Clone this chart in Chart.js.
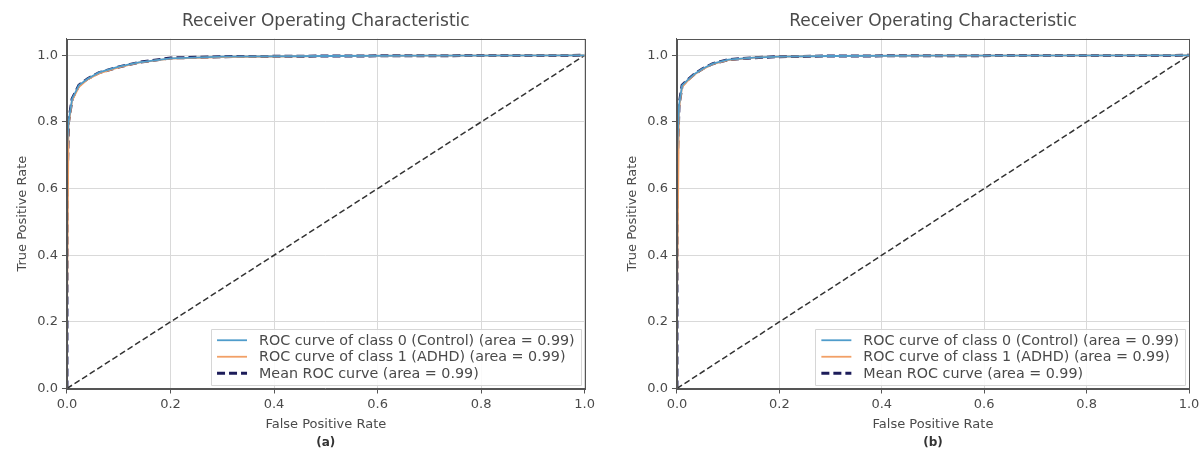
<!DOCTYPE html>
<html>
<head>
<meta charset="utf-8">
<script src="https://cdn.jsdelivr.net/npm/chart.js@4.4.1/dist/chart.umd.min.js"></script>
<style>
  html, body { margin: 0; padding: 0; background: #fff; }
  body { width: 1200px; height: 455px; position: relative; overflow: hidden; }
  .panel { position: absolute; top: 0; height: 455px; }
  #panelA { left: 0; width: 600px; }
  #panelB { left: 610px; width: 600px; }
</style>
</head>
<body>
<div class="panel" id="panelA"><canvas id="rocA"></canvas></div>
<div class="panel" id="panelB"><canvas id="rocB"></canvas></div>
<script>
// ------------------------------------------------------------
// Data (FPR grid + TPR per curve)
// ------------------------------------------------------------
const fprA     = [0, 0,    0.003, 0.01, 0.023, 0.04, 0.062, 0.1,   0.139, 0.2,   0.3,   0.5,   0.7,   1.0];
const tprA0    = [0, 0.72, 0.80,  0.87, 0.91,  0.93, 0.949, 0.966, 0.979, 0.991, 0.996, 0.998, 0.999, 1.0];
const tprA1    = [0, 0.20, 0.79,  0.865,0.905, 0.928,0.946, 0.964, 0.978, 0.990, 0.995, 0.998, 0.999, 1.0];
const tprAMean = [0, 0.60, 0.80,  0.87, 0.91,  0.93, 0.948, 0.965, 0.979, 0.992, 0.996, 0.998, 0.999, 1.0];

const fprB     = [0, 0,    0.004, 0.01, 0.02,  0.035, 0.05,  0.07,  0.1,   0.15,  0.2,   0.3,   0.5,   1.0];
const tprB0    = [0, 0.70, 0.85,  0.91, 0.925, 0.945, 0.96,  0.975, 0.987, 0.993, 0.996, 0.998, 0.999, 1.0];
const tprB1    = [0, 0.25, 0.84,  0.905,0.922, 0.943, 0.958, 0.974, 0.986, 0.993, 0.996, 0.998, 0.999, 1.0];
const tprBMean = [0, 0.65, 0.85,  0.91, 0.925, 0.945, 0.96,  0.975, 0.987, 0.993, 0.996, 0.998, 0.999, 1.0];

const chanceX = [0, 1];
const chanceY = [0, 1];

const tickValues = [0, 0.2, 0.4, 0.6, 0.8, 1.0];
const legendLabels = [
  'ROC curve of class 0 (Control) (area = 0.99)',
  'ROC curve of class 1 (ADHD) (area = 0.99)',
  'Mean ROC curve (area = 0.99)'
];

const FONT = "'DejaVu Sans', sans-serif";
const TEXT = '#4a4a4a';

function pts(xs, ys) {
  return xs.map(function (x, i) { return { x: x, y: ys[i] }; });
}

// ------------------------------------------------------------
// plugins: axes frame + matplotlib-like legend inside the plot
// ------------------------------------------------------------
const framePlugin = {
  id: 'frame',
  afterDatasetsDraw(chart) {
    const a = chart.chartArea, c = chart.ctx;
    c.save();
    c.strokeStyle = '#555';
    c.lineWidth = 1;
    c.strokeRect(Math.round(a.left) + 0.5, Math.round(a.top) + 0.5,
                 Math.round(a.right - a.left), Math.round(a.bottom - a.top));
    c.restore();
  }
};

const insideLegend = {
  id: 'insideLegend',
  afterDraw(chart) {
    const a = chart.chartArea, c = chart.ctx;
    const items = chart.data.datasets.filter(function (d) { return d.inLegend; });
    c.save();
    c.font = '14.3px ' + FONT;
    let tw = 0;
    items.forEach(function (d) { tw = Math.max(tw, c.measureText(d.label).width); });
    const rowH = 16.5, padX = 6, sample = 30, gap = 12;
    const w = padX + sample + gap + tw + padX;
    const h = items.length * rowH + 6;
    const x = a.right - 4 - w, y = a.bottom - 4 - h;
    c.fillStyle = 'rgba(255,255,255,0.85)';
    c.strokeStyle = '#d6d6d6';
    c.lineWidth = 1;
    c.beginPath();
    c.rect(Math.round(x) + 0.5, Math.round(y) + 0.5, Math.round(w), Math.round(h));
    c.fill();
    c.stroke();
    items.forEach(function (d, i) {
      const cy = y + 3 + rowH * i + rowH / 2;
      c.strokeStyle = d.borderColor;
      c.lineWidth = d.borderWidth;
      c.setLineDash(d.borderDash || []);
      c.beginPath();
      c.moveTo(x + padX, cy);
      c.lineTo(x + padX + sample, cy);
      c.stroke();
      c.setLineDash([]);
      c.fillStyle = TEXT;
      c.textBaseline = 'middle';
      c.fillText(d.label, x + padX + sample + gap, cy + 1);
    });
    c.restore();
  }
};

function makeDatasets(fpr, t0, t1, tm) {
  return [
    { label: legendLabels[0], data: pts(fpr, t0), borderColor: '#4f9ccb', borderWidth: 1.8, inLegend: true },
    { label: legendLabels[1], data: pts(fpr, t1), borderColor: '#f2a066', borderWidth: 1.8, inLegend: true },
    { label: 'Chance', data: pts(chanceX, chanceY), borderColor: '#333', borderWidth: 1.5, borderDash: [6, 3] },
    { label: legendLabels[2], data: pts(fpr, tm), borderColor: '#1c1c5a', borderWidth: 3, borderDash: [8, 4], inLegend: true }
  ].map(function (d) {
    return Object.assign({ showLine: true, pointRadius: 0, fill: false, tension: 0 }, d);
  });
}

function makeScale(title, isY) {
  return {
    type: 'linear',
    min: 0,
    max: isY ? 1.05 : 1.0,
    afterBuildTicks: function (s) { s.ticks = tickValues.map(function (v) { return { value: v }; }); },
    ticks: {
      autoSkip: false, maxRotation: 0, padding: isY ? 4 : 5,
      font: { family: FONT, size: 13, lineHeight: 1.0 }, color: TEXT,
      callback: function (v) { return Number(v).toFixed(1); }
    },
    grid: { color: '#d9d9d9', tickColor: '#555', tickLength: 5, drawTicks: true },
    border: { display: true, color: '#555' },
    title: {
      display: true, text: title, color: TEXT,
      font: { family: FONT, size: 13, lineHeight: 1.1 },
      padding: isY ? { top: 0, bottom: 4 } : { top: 1, bottom: 0 }
    }
  };
}

function makeChart(id, datasets, caption, padRight) {
  return new Chart(document.getElementById(id), {
    type: 'scatter',
    data: { datasets: datasets },
    options: {
      responsive: true,
      maintainAspectRatio: false,
      animation: false,
      layout: { padding: { left: 15, right: padRight, top: 8, bottom: 6 } },
      scales: {
        x: makeScale('False Positive Rate', false),
        y: makeScale('True Positive Rate', true)
      },
      plugins: {
        legend: { display: false },
        tooltip: { enabled: false },
        title: {
          display: true, text: 'Receiver Operating Characteristic', fullSize: false,
          font: { family: FONT, size: 17, weight: 'normal', lineHeight: 1.1 }, color: TEXT,
          padding: { top: 4, bottom: 8 }
        },
        subtitle: {
          display: true, text: caption, position: 'bottom', fullSize: false,
          font: { family: FONT, size: 12, weight: 'bold', lineHeight: 1.1 }, color: '#333',
          padding: { top: 4, bottom: 0 }
        }
      }
    },
    plugins: [framePlugin, insideLegend]
  });
}

makeChart('rocA', makeDatasets(fprA, tprA0, tprA1, tprAMean), '(a)', 13);
// panel B runs past the window edge, so its last tick label is clipped as in the reference
makeChart('rocB', makeDatasets(fprB, tprB0, tprB1, tprBMean), '(b)', 21);
</script>
</body>
</html>
